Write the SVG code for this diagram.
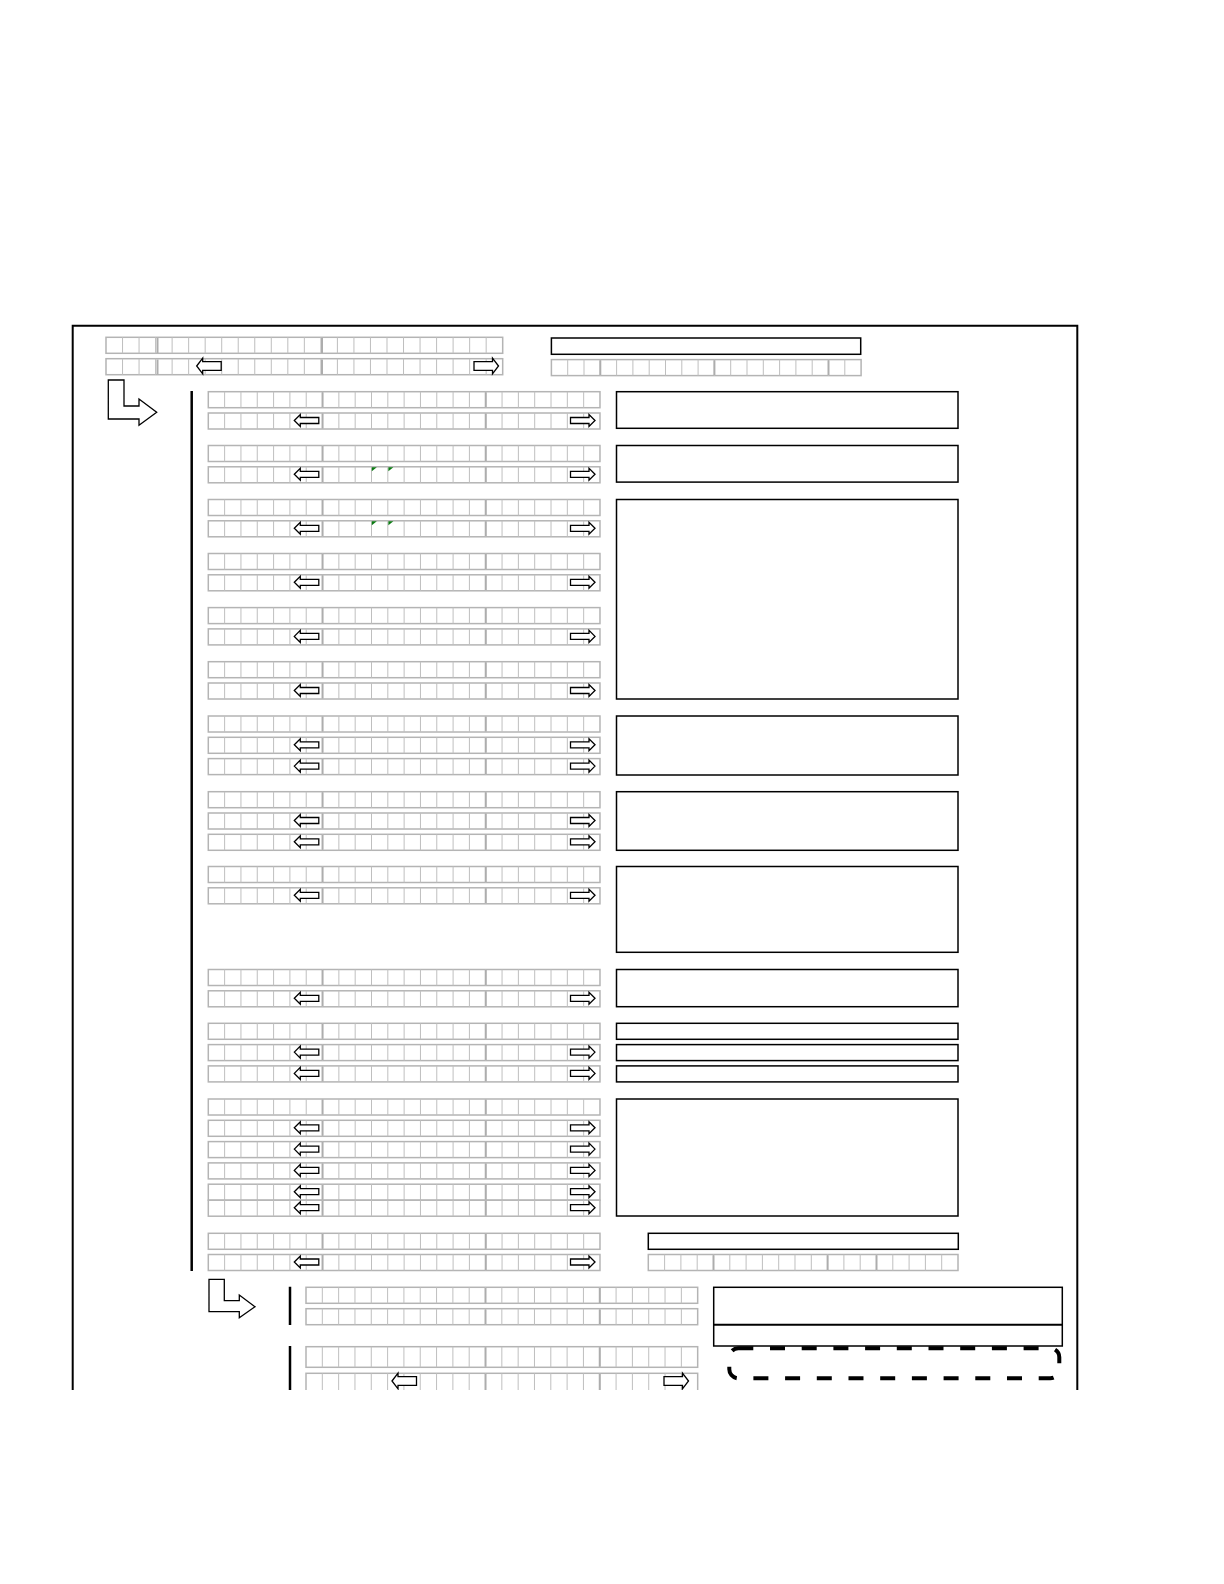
<svg xmlns="http://www.w3.org/2000/svg" xmlns:xlink="http://www.w3.org/1999/xlink" width="1224" height="1584" viewBox="0 0 1224 1584">
<style>
.g{fill:none;stroke:#bfbfbf;stroke-width:1}
.gt{fill:none;stroke:#adadad;stroke-width:2}
.go{fill:#fff;stroke:#b4b4b4;stroke-width:1.5}
.box{fill:none;stroke:#000;stroke-width:1.5}
.ar{fill:#fff;stroke:#000;stroke-width:1.3}
.ln{fill:none;stroke:#000;stroke-width:2.5}
.gm{fill:#0b7a12;stroke:none}
</style>
<defs>
<clipPath id="clip"><rect x="0" y="0" width="1224" height="1390"/></clipPath>
<g id="r24">
<rect class="go" x="0" y="0" width="391.68" height="16"/>
<path class="g" d="M16.32 0V16M32.64 0V16M48.96 0V16M65.28 0V16M81.6 0V16M97.92 0V16M114.24 0V16M130.56 0V16M146.88 0V16M163.2 0V16M179.52 0V16M195.84 0V16M212.16 0V16M228.48 0V16M244.8 0V16M261.12 0V16M277.44 0V16M293.76 0V16M310.08 0V16M326.4 0V16M342.72 0V16M359.04 0V16M375.36 0V16"/>
</g>
<g id="sr">
<use xlink:href="#r24"/>
<path class="gt" d="M114.24 0.5V15.5M277.44 0.5V15.5"/>
</g>
<g id="r24t">
<rect class="go" x="0" y="0" width="391.68" height="20.6"/>
<path class="g" d="M16.32 0V20.6M32.64 0V20.6M48.96 0V20.6M65.28 0V20.6M81.6 0V20.6M97.92 0V20.6M114.24 0V20.6M130.56 0V20.6M146.88 0V20.6M163.2 0V20.6M179.52 0V20.6M195.84 0V20.6M212.16 0V20.6M228.48 0V20.6M244.8 0V20.6M261.12 0V20.6M277.44 0V20.6M293.76 0V20.6M310.08 0V20.6M326.4 0V20.6M342.72 0V20.6M359.04 0V20.6M375.36 0V20.6"/>
<path class="gt" d="M179.52 0.5V20.1M293.76 0.5V20.1"/>
</g>
<g id="r19">
<rect class="go" x="0" y="0" width="309.7" height="16"/>
<path class="g" d="M16.3 0V16M32.6 0V16M48.9 0V16M65.2 0V16M81.5 0V16M97.8 0V16M114.1 0V16M130.4 0V16M146.7 0V16M163 0V16M179.3 0V16M195.6 0V16M211.9 0V16M228.2 0V16M244.5 0V16M260.8 0V16M277.1 0V16M293.4 0V16"/>
</g>
<path id="la" class="ar" d="M0 0L6 -6L6 -3L24.5 -3L24.5 3L6 3L6 6Z"/>
<path id="ra" class="ar" d="M0 0L-6 -6L-6 -3L-24.5 -3L-24.5 3L-6 3L-6 6Z"/>
<path id="lab" class="ar" d="M0 0L6 -7.8L6 -4.3L24.5 -4.3L24.5 4.3L6 4.3L6 7.8Z"/>
<path id="rab" class="ar" d="M0 0L-6 -7.8L-6 -4.3L-24.5 -4.3L-24.5 4.3L-6 4.3L-6 7.8Z"/>
<path id="gm" class="gm" d="M0 0H5L0 4Z"/>
</defs>
<g clip-path="url(#clip)">
<g id="frame">
<path fill="none" stroke="#000" stroke-width="2" d="M72.7 1392V325.7H1077.3V1392"/>
</g>

<g id="header">
<use xlink:href="#r24" transform="translate(106,337.3) scale(1.0128,1)"/>
<use xlink:href="#r24" transform="translate(106,358.7) scale(1.0128,1)"/>
<path class="gt" d="M157.5 338V353M322 338V353M157.5 359.4V374.4M322 359.4V374.4"/>
<use xlink:href="#lab" x="196.7" y="366"/>
<use xlink:href="#rab" x="498.5" y="366"/>
<rect class="box" x="551.4" y="338" width="309.3" height="16.3"/>
<use xlink:href="#r19" x="551.4" y="359.6"/>
<path class="gt" d="M600.3 360.3V375M714.4 360.3V375M828.5 360.3V375"/>
</g>

<g id="connectors">
<path class="ar" stroke-width="1.5" d="M108.3 380H124V406H139V399L156.7 412.3L139 425.3V419H108.3Z"/>
<path class="ln" d="M191.7 391V1271"/>
<path class="ar" stroke-width="1.5" d="M209 1279.3H224.3V1300.7H239.3V1295L255 1306.7L239.3 1317.7V1311.7H209Z"/>
<path class="ln" d="M290 1286.7V1325M290 1346V1392"/>
</g>

<g id="secA">
<use xlink:href="#sr" x="208.3" y="391.7"/>
<use xlink:href="#sr" x="208.3" y="413"/>
<use xlink:href="#la" x="294.3" y="420.5"/>
<use xlink:href="#ra" x="595" y="420.5"/>
<rect class="box" x="616.5" y="391.7" width="341.5" height="36.6"/>
</g>

<g id="secB">
<use xlink:href="#sr" x="208.3" y="445.5"/>
<use xlink:href="#sr" x="208.3" y="466.8"/>
<use xlink:href="#la" x="294.3" y="474.3"/>
<use xlink:href="#ra" x="595" y="474.3"/>
<use xlink:href="#gm" x="371.8" y="467.3"/>
<use xlink:href="#gm" x="388.4" y="467.3"/>
<rect class="box" x="616.5" y="445.5" width="341.5" height="36.6"/>
</g>

<g id="secC">
<use xlink:href="#sr" x="208.3" y="499.5"/>
<use xlink:href="#sr" x="208.3" y="520.8"/>
<use xlink:href="#la" x="294.3" y="528.3"/>
<use xlink:href="#ra" x="595" y="528.3"/>
<use xlink:href="#gm" x="371.8" y="521.3"/>
<use xlink:href="#gm" x="388.4" y="521.3"/>
</g>

<g id="secD">
<use xlink:href="#sr" x="208.3" y="553.5"/>
<use xlink:href="#sr" x="208.3" y="574.8"/>
<use xlink:href="#la" x="294.3" y="582.3"/>
<use xlink:href="#ra" x="595" y="582.3"/>
</g>

<g id="secE">
<use xlink:href="#sr" x="208.3" y="607.6"/>
<use xlink:href="#sr" x="208.3" y="628.9"/>
<use xlink:href="#la" x="294.3" y="636.4"/>
<use xlink:href="#ra" x="595" y="636.4"/>
</g>

<g id="secF">
<use xlink:href="#sr" x="208.3" y="661.7"/>
<use xlink:href="#sr" x="208.3" y="683"/>
<use xlink:href="#la" x="294.3" y="690.5"/>
<use xlink:href="#ra" x="595" y="690.5"/>
</g>

<g id="boxCF">
<rect class="box" x="616.5" y="499.5" width="341.5" height="199.5"/>
</g>

<g id="secG">
<use xlink:href="#sr" x="208.3" y="716"/>
<use xlink:href="#sr" x="208.3" y="737.3"/>
<use xlink:href="#sr" x="208.3" y="758.6"/>
<use xlink:href="#la" x="294.3" y="744.8"/>
<use xlink:href="#ra" x="595" y="744.8"/>
<use xlink:href="#la" x="294.3" y="766.1"/>
<use xlink:href="#ra" x="595" y="766.1"/>
<rect class="box" stroke-width="2.5" x="616.5" y="716" width="341.5" height="59"/>
</g>

<g id="secH">
<use xlink:href="#sr" x="208.3" y="791.7"/>
<use xlink:href="#sr" x="208.3" y="813"/>
<use xlink:href="#sr" x="208.3" y="834.3"/>
<use xlink:href="#la" x="294.3" y="820.5"/>
<use xlink:href="#ra" x="595" y="820.5"/>
<use xlink:href="#la" x="294.3" y="841.8"/>
<use xlink:href="#ra" x="595" y="841.8"/>
<rect class="box" x="616.5" y="791.7" width="341.5" height="58.6"/>
</g>

<g id="secI">
<use xlink:href="#sr" x="208.3" y="866.5"/>
<use xlink:href="#sr" x="208.3" y="887.8"/>
<use xlink:href="#la" x="294.3" y="895.3"/>
<use xlink:href="#ra" x="595" y="895.3"/>
<rect class="box" x="616.5" y="866.5" width="341.5" height="85.8"/>
</g>

<g id="secJ">
<use xlink:href="#sr" x="208.3" y="969.5"/>
<use xlink:href="#sr" x="208.3" y="990.8"/>
<use xlink:href="#la" x="294.3" y="998.3"/>
<use xlink:href="#ra" x="595" y="998.3"/>
<rect class="box" x="616.5" y="969.5" width="341.5" height="37.2"/>
</g>

<g id="secK">
<use xlink:href="#sr" x="208.3" y="1023.3"/>
<use xlink:href="#sr" x="208.3" y="1044.6"/>
<use xlink:href="#sr" x="208.3" y="1065.9"/>
<use xlink:href="#la" x="294.3" y="1052.1"/>
<use xlink:href="#ra" x="595" y="1052.1"/>
<use xlink:href="#la" x="294.3" y="1073.4"/>
<use xlink:href="#ra" x="595" y="1073.4"/>
<rect class="box" x="616.5" y="1023.3" width="341.5" height="16"/>
<rect class="box" x="616.5" y="1044.6" width="341.5" height="16"/>
<rect class="box" x="616.5" y="1065.9" width="341.5" height="16"/>
</g>

<g id="secL">
<use xlink:href="#sr" x="208.3" y="1099"/>
<use xlink:href="#sr" x="208.3" y="1120.3"/>
<use xlink:href="#sr" x="208.3" y="1141.6"/>
<use xlink:href="#sr" x="208.3" y="1162.9"/>
<use xlink:href="#sr" x="208.3" y="1184.2"/>
<use xlink:href="#sr" x="208.3" y="1200.2"/>
<use xlink:href="#la" x="294.3" y="1127.8"/>
<use xlink:href="#ra" x="595" y="1127.8"/>
<use xlink:href="#la" x="294.3" y="1149.1"/>
<use xlink:href="#ra" x="595" y="1149.1"/>
<use xlink:href="#la" x="294.3" y="1170.4"/>
<use xlink:href="#ra" x="595" y="1170.4"/>
<use xlink:href="#la" x="294.3" y="1191.7"/>
<use xlink:href="#ra" x="595" y="1191.7"/>
<use xlink:href="#la" x="294.3" y="1207.7"/>
<use xlink:href="#ra" x="595" y="1207.7"/>
<rect class="box" x="616.5" y="1099" width="341.5" height="117"/>
</g>

<g id="secM">
<use xlink:href="#sr" x="208.3" y="1233.3"/>
<use xlink:href="#sr" x="208.3" y="1254.5"/>
<use xlink:href="#la" x="294.3" y="1262"/>
<use xlink:href="#ra" x="595" y="1262"/>
<rect class="box" x="648.3" y="1233.3" width="310" height="16"/>
<use xlink:href="#r19" x="648.3" y="1254.5"/>
<path class="gt" d="M713.5 1255.2V1270M827.6 1255.2V1270M876.5 1255.2V1270"/>
</g>

<g id="secN">
<use xlink:href="#r24" x="306" y="1287.3"/>
<use xlink:href="#r24" x="306" y="1308.7"/>
<path class="gt" d="M485.5 1288V1303M599.8 1288V1303M485.5 1309.4V1324.4M599.8 1309.4V1324.4"/>
<rect class="box" stroke-width="2" x="713.7" y="1287.3" width="348.6" height="58.7"/>
<path fill="none" stroke="#000" stroke-width="2" d="M713.7 1324.7H1062.3"/>
</g>

<g id="secO">
<use xlink:href="#r24t" x="306" y="1346.7"/>
<use xlink:href="#r24t" x="306" y="1373.3"/>
<use xlink:href="#lab" x="392" y="1381"/>
<use xlink:href="#rab" x="688.5" y="1381"/>
<rect fill="none" stroke="#000" stroke-width="4" stroke-dasharray="15 16.7" x="729.3" y="1348.3" width="330" height="30" rx="9" ry="9"/>
</g>
</g>
</svg>
